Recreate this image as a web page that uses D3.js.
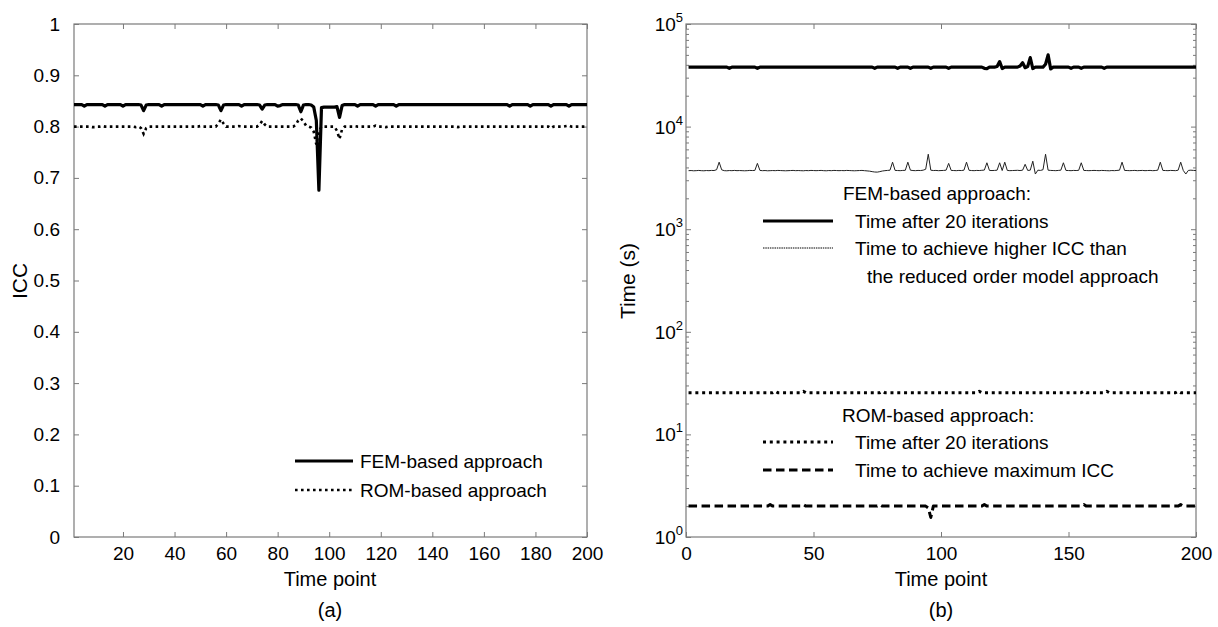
<!DOCTYPE html>
<html>
<head>
<meta charset="utf-8">
<script src="https://cdn.jsdelivr.net/npm/d3@7"></script>
<style>
body { margin: 0; background: #fff; }
text { font-family: "Liberation Sans", Arial, sans-serif; fill: #000; }
</style>
</head>
<body>
<script>
var w = 1218;
var h = 627;

// time points 1..200
var timePoints = d3.range(1, 201);

// (a) ICC values
var femIcc = [
  .843,.843,.843,.843,.840,.843,.843,.843,.843,.843,.843,.843,.840,.843,.843,.843,.843,.843,.843,.840,
  .843,.843,.843,.843,.843,.843,.842,.831,.842,.843,.843,.843,.843,.843,.840,.843,.843,.843,.843,.843,
  .843,.843,.843,.843,.843,.843,.843,.843,.843,.843,.840,.843,.843,.843,.843,.843,.842,.831,.842,.843,
  .843,.843,.843,.843,.843,.840,.843,.843,.843,.843,.843,.843,.842,.834,.842,.843,.843,.843,.843,.840,
  .841,.843,.843,.843,.843,.843,.843,.842,.829,.842,.843,.843,.842,.838,.812,.676,.837,.838,.838,.838,
  .838,.838,.839,.818,.841,.843,.843,.843,.843,.843,.840,.843,.843,.843,.843,.843,.843,.840,.843,.843,
  .843,.843,.843,.843,.843,.840,.843,.843,.843,.843,.843,.843,.843,.843,.843,.843,.843,.843,.843,.843,
  .843,.843,.843,.843,.843,.843,.843,.843,.843,.843,.843,.843,.843,.843,.843,.843,.843,.843,.843,.843,
  .843,.843,.843,.843,.843,.843,.843,.843,.843,.840,.843,.843,.843,.843,.843,.843,.843,.840,.843,.843,
  .843,.843,.843,.843,.843,.840,.843,.843,.843,.843,.843,.843,.840,.843,.843,.843,.843,.843,.843,.843];

var romIcc = [
  .800,.800,.800,.800,.800,.800,.800,.799,.799,.800,.800,.801,.800,.800,.800,.800,.800,.800,.800,.800,
  .800,.800,.800,.800,.799,.800,.797,.786,.797,.800,.800,.800,.800,.800,.800,.800,.800,.800,.800,.800,
  .800,.800,.800,.800,.800,.800,.800,.800,.800,.801,.800,.800,.800,.800,.800,.800,.806,.814,.806,.800,
  .800,.800,.800,.800,.801,.800,.800,.800,.800,.800,.800,.800,.804,.811,.804,.800,.800,.800,.800,.800,
  .800,.800,.800,.800,.800,.800,.803,.812,.816,.810,.802,.800,.798,.790,.765,.790,.800,.800,.800,.800,
  .800,.800,.792,.776,.795,.800,.800,.800,.800,.801,.800,.800,.800,.800,.800,.800,.800,.802,.800,.800,
  .800,.799,.800,.800,.800,.800,.800,.800,.800,.800,.800,.800,.800,.800,.800,.800,.800,.800,.800,.800,
  .800,.800,.800,.800,.800,.800,.800,.800,.800,.799,.800,.800,.800,.800,.800,.800,.800,.800,.800,.800,
  .800,.800,.800,.800,.800,.800,.800,.800,.800,.800,.800,.800,.800,.800,.800,.800,.800,.800,.800,.800,
  .800,.800,.800,.800,.800,.797,.800,.800,.800,.800,.800,.801,.802,.800,.800,.800,.800,.800,.800,.800];

// (b) time values in seconds
var femTime20 = [
  38000,38000,38000,38000,38000,38000,38000,38000,38000,38000,38000,38000,38000,38000,38000,38000,37000,38000,38000,38000,
  38000,38000,38000,38000,38000,38000,38000,37000,38000,38000,38000,38000,38000,38000,38000,38000,38000,38000,38000,38000,
  38000,38000,38000,38000,38000,38000,38000,38000,38000,38000,38000,38000,38000,38000,38000,38000,38000,38000,38000,38000,
  38000,38000,38000,38000,38000,38000,38000,38000,38000,38000,38000,38000,38000,37000,38000,38000,38000,38000,38000,38000,
  38000,38000,37000,38000,38000,38000,38000,37000,38000,38000,38000,38000,38000,38000,38000,37000,38000,38000,38000,38000,
  38000,38000,37000,38000,38000,38000,38000,38000,38000,38000,38000,38000,38000,38000,38000,38000,37000,36700,38000,38000,
  38000,38500,43000,36800,38000,38000,38000,38000,38000,38000,39000,42000,37500,38500,47000,36800,38000,38000,38000,38000,
  40500,50000,36500,38000,38000,38000,38000,38000,38000,38000,37000,38000,38000,38000,37000,38000,38000,38000,38000,38000,
  38000,38000,38000,37000,38000,38000,38000,38000,38000,38000,38000,38000,38000,38000,38000,38000,38000,38000,38000,38000,
  38000,38000,38000,38000,38000,38000,38000,38000,38000,38000,38000,38000,38000,38000,38000,38000,38000,38000,38000,38000];

var femTimeHigher = [
  3720,3730,3710,3720,3740,3720,3710,3730,3720,3740,3730,3800,4500,3790,3720,3710,3730,3720,3740,3720,
  3730,3720,3710,3720,3740,3730,3740,4380,3740,3720,3730,3710,3720,3730,3720,3740,3730,3720,3710,3720,
  3730,3740,3720,3730,3720,3710,3730,3720,3740,3730,3720,3730,3740,3720,3710,3730,3720,3740,3730,3720,
  3730,3720,3740,3730,3720,3710,3720,3730,3740,3720,3700,3680,3640,3610,3600,3640,3690,3720,3740,3760,
  4500,3740,3730,3720,3740,3750,4500,3760,3730,3720,3740,3730,3760,3840,5380,3760,3730,3740,3720,3730,
  3740,3760,4380,3740,3730,3720,3740,3730,3760,4500,3750,3730,3720,3740,3730,3750,3770,4440,3740,3730,
  3740,3760,4440,3730,4500,3740,3720,3730,3740,3750,3730,3760,4290,3740,3760,4600,3450,3760,3740,3800,
  5380,3760,3740,3730,3720,3740,3760,4440,3740,3730,3720,3740,3730,3750,4440,3740,3730,3720,3730,3740,
  3730,3720,3740,3730,3720,3710,3730,3720,3740,3760,4500,3740,3730,3720,3730,3740,3720,3730,3740,3720,
  3730,3740,3720,3730,3760,4500,3740,3730,3720,3740,3730,3720,3760,4500,3740,3450,3740,3760,3740,3730];

var romTime20 = [
  25.5,25.5,25.5,25.5,25.5,25.5,25.5,25.5,25.5,25.5,25.5,25.5,25.5,25.5,25.5,25.5,25.5,25.5,25.5,25.5,
  25.5,25.5,25.5,25.5,25.5,25.5,25.5,25.5,25.5,25.5,25.5,25.5,25.5,25.5,26.3,25.5,25.5,25.5,25.5,25.5,
  25.5,25.5,25.5,25.5,25.5,26.3,25.5,25.5,25.5,25.5,25.5,25.5,25.5,25.5,25.5,25.5,25.5,25.5,25.5,25.5,
  25.5,25.5,25.5,25.5,25.5,25.5,25.5,25.5,25.5,25.5,25.5,25.5,25.5,25.5,25.5,25.5,26.3,25.5,25.5,25.5,
  25.5,25.5,25.5,25.5,25.5,25.5,25.5,25.5,25.5,25.5,25.5,25.5,25.5,25.5,25.5,25.5,25.5,25.5,25.5,25.5,
  25.5,25.5,25.5,25.5,25.5,25.5,25.5,25.5,25.5,25.5,25.5,25.5,25.5,25.5,26.3,25.5,25.5,25.5,25.5,25.5,
  25.5,25.5,25.5,25.5,25.5,25.5,25.5,25.5,25.5,25.5,25.5,25.5,25.5,25.5,25.5,25.5,25.5,25.5,25.5,25.5,
  25.5,25.5,25.5,25.5,25.5,25.5,25.5,25.5,25.5,25.5,25.5,25.5,25.5,25.5,25.5,26.3,25.5,25.5,25.5,25.5,
  25.5,25.5,25.5,25.5,26.3,25.5,25.5,25.5,25.5,25.5,25.5,25.5,25.5,25.5,25.5,25.5,25.5,25.5,25.5,25.5,
  25.5,25.5,25.5,25.5,25.5,25.5,25.5,25.5,25.5,25.5,25.5,25.5,26.3,25.5,25.5,25.5,25.5,25.5,25.5,25.5];

var romTimeMax = [
  2.0,2.0,2.0,2.0,2.0,2.0,2.0,2.0,2.0,2.0,2.0,2.0,2.0,2.0,2.0,2.0,2.0,2.0,2.0,2.0,
  2.0,2.0,2.0,2.0,2.0,2.0,2.0,2.0,2.0,2.0,2.0,2.0,2.07,2.0,2.0,2.0,2.0,2.0,2.0,2.0,
  2.0,2.0,2.0,2.0,2.0,2.07,2.0,2.0,2.0,2.0,2.0,2.0,2.0,2.0,2.0,2.0,2.0,2.0,2.0,2.0,
  2.0,2.0,2.0,2.0,2.0,2.0,2.0,2.0,2.0,2.0,2.0,2.0,2.0,2.0,2.0,2.07,2.0,2.0,2.0,2.0,
  2.0,2.0,2.0,2.0,2.0,2.0,2.0,2.0,2.0,2.0,2.0,2.0,2.0,2.0,1.92,1.55,2.0,2.0,2.0,2.0,
  2.0,2.0,2.0,2.0,2.0,2.0,2.0,2.0,2.0,2.0,2.0,2.0,2.0,2.0,2.0,2.0,2.07,2.0,2.0,2.0,
  2.0,2.0,2.0,2.0,2.0,2.0,2.0,2.0,2.0,2.0,2.0,2.0,2.0,2.0,2.0,2.0,2.0,2.0,2.0,2.0,
  2.0,2.0,2.0,2.0,2.0,2.0,2.0,2.0,2.0,2.0,2.0,2.0,2.0,2.0,2.0,2.07,2.0,2.0,2.0,2.0,
  2.0,2.0,2.0,2.0,2.0,2.0,2.0,2.0,2.0,2.0,2.0,2.0,2.0,2.0,2.0,2.0,2.0,2.0,2.0,2.0,
  2.0,2.0,2.0,2.0,2.0,2.0,2.0,2.0,2.0,2.0,2.0,2.0,2.0,2.07,2.0,2.0,2.0,2.0,2.0,2.0];

// tick labels
var iccTicks = [0, 0.1, 0.2, 0.3, 0.4, 0.5, 0.6, 0.7, 0.8, 0.9, 1];
var xTicksA = [20, 40, 60, 80, 100, 120, 140, 160, 180, 200];
var xTicksB = [0, 50, 100, 150, 200];
var timeTicks = [1, 10, 100, 1000, 10000, 100000];

var axisColor = "#7a7a7a";

var svg = d3.select("body").append("svg")
    .attr("width", w)
    .attr("height", h);

// ---------- panel (a) ----------
var xA = d3.scaleLinear().domain([1, 200]).range([74, 587]);
var yA = d3.scaleLinear().domain([0, 1]).range([537, 24]);

var gA = svg.append("g");

// inward ticks, labels on bottom/left only
gA.append("g").attr("transform", "translate(0,537)")
    .call(d3.axisBottom(xA).tickValues(xTicksA).tickSizeInner(-5).tickSizeOuter(0).tickPadding(10));
gA.append("g").attr("transform", "translate(0,24)")
    .call(d3.axisTop(xA).tickValues(xTicksA).tickSizeInner(-5).tickSizeOuter(0).tickFormat(""));
gA.append("g").attr("transform", "translate(74,0)")
    .call(d3.axisLeft(yA).tickValues(iccTicks).tickSizeInner(-5).tickSizeOuter(0).tickPadding(14).tickFormat(d3.format("")));
gA.append("g").attr("transform", "translate(587,0)")
    .call(d3.axisRight(yA).tickValues(iccTicks).tickSizeInner(-5).tickSizeOuter(0).tickFormat(""));

gA.append("rect")
    .attr("x", 74).attr("y", 24)
    .attr("width", 587 - 74).attr("height", 537 - 24)
    .style("fill", "none").style("stroke", axisColor).style("stroke-width", 1.2);

var lineA = function(vals) {
  return d3.line()
    .x(function(d, i) { return xA(timePoints[i]); })
    .y(function(d) { return yA(d); })(vals);
};

gA.append("path").attr("d", lineA(romIcc))
    .style("fill", "none").style("stroke", "#000").style("stroke-width", 2.6)
    .style("stroke-dasharray", "2.6,3.4");
gA.append("path").attr("d", lineA(femIcc))
    .style("fill", "none").style("stroke", "#000").style("stroke-width", 3.2)
    .style("stroke-linejoin", "round");

// legend (a)
var legA = [
  {label: "FEM-based approach", y: 461, width: 3.2, dash: null},
  {label: "ROM-based approach", y: 490, width: 2.6, dash: "2.6,3.4"}];
var legGA = gA.selectAll(".legA").data(legA).enter().append("g");
legGA.append("line")
    .attr("x1", 295).attr("x2", 353)
    .attr("y1", function(d) { return d.y; }).attr("y2", function(d) { return d.y; })
    .style("stroke", "#000")
    .style("stroke-width", function(d) { return d.width; })
    .style("stroke-dasharray", function(d) { return d.dash; });
legGA.append("text")
    .attr("x", 360).attr("y", function(d) { return d.y; }).attr("dy", "0.36em")
    .style("font-size", "19px")
    .text(function(d) { return d.label; });

gA.append("text").attr("x", 330).attr("y", 586).attr("text-anchor", "middle")
    .style("font-size", "20px").text("Time point");
gA.append("text").attr("x", 330).attr("y", 617).attr("text-anchor", "middle")
    .style("font-size", "20px").text("(a)");
gA.append("text").attr("transform", "translate(27,281) rotate(-90)").attr("text-anchor", "middle")
    .style("font-size", "21px").text("ICC");

// ---------- panel (b) ----------
var xB = d3.scaleLinear().domain([0, 200]).range([686, 1196]);
var yB = d3.scaleLog().domain([1, 100000]).range([537, 24]);

var gB = svg.append("g");

// minor log ticks 2..9 per decade
var minorTicks = [];
timeTicks.slice(0, 5).forEach(function(t) {
  [2, 3, 4, 5, 6, 7, 8, 9].forEach(function(m) { minorTicks.push(t * m); });
});

gB.append("g").attr("transform", "translate(0,537)")
    .call(d3.axisBottom(xB).tickValues(xTicksB).tickSizeInner(-5).tickSizeOuter(0).tickPadding(10));
gB.append("g").attr("transform", "translate(0,24)")
    .call(d3.axisTop(xB).tickValues(xTicksB).tickSizeInner(-5).tickSizeOuter(0).tickFormat(""));
gB.append("g").attr("transform", "translate(686,0)")
    .call(d3.axisLeft(yB).tickValues(timeTicks).tickSizeInner(-5).tickSizeOuter(0).tickFormat(""));
gB.append("g").attr("transform", "translate(1196,0)")
    .call(d3.axisRight(yB).tickValues(timeTicks).tickSizeInner(-5).tickSizeOuter(0).tickFormat(""));
gB.append("g").attr("transform", "translate(686,0)")
    .call(d3.axisLeft(yB).tickValues(minorTicks).tickSizeInner(-3).tickSizeOuter(0).tickFormat(""));
gB.append("g").attr("transform", "translate(1196,0)")
    .call(d3.axisRight(yB).tickValues(minorTicks).tickSizeInner(-3).tickSizeOuter(0).tickFormat(""));

// 10^k labels
var powLabels = gB.selectAll(".pow").data(timeTicks).enter().append("text")
    .attr("x", 683).attr("y", function(d) { return yB(d) + 7; })
    .attr("text-anchor", "end")
    .style("font-size", "19px");
powLabels.append("tspan").text("10");
powLabels.append("tspan").attr("dy", -9).style("font-size", "13px")
    .text(function(d) { return Math.round(Math.log10(d)); });

gB.append("rect")
    .attr("x", 686).attr("y", 24)
    .attr("width", 1196 - 686).attr("height", 537 - 24)
    .style("fill", "none").style("stroke", axisColor).style("stroke-width", 1.2);

var lineB = function(vals) {
  return d3.line()
    .x(function(d, i) { return xB(timePoints[i]); })
    .y(function(d) { return yB(d); })(vals);
};

var seriesB = [
  {vals: femTime20, width: 3.2, dash: null, color: "#000"},
  {vals: femTimeHigher, width: 1, dash: null, color: "#222"},
  {vals: romTime20, width: 3, dash: "3,3.8", color: "#000"},
  {vals: romTimeMax, width: 3, dash: "8.5,4.5", color: "#000"}];

gB.selectAll(".serB").data(seriesB).enter().append("path")
    .attr("d", function(d) { return lineB(d.vals); })
    .style("fill", "none")
    .style("stroke", function(d) { return d.color; })
    .style("stroke-width", function(d) { return d.width; })
    .style("stroke-dasharray", function(d) { return d.dash; })
    .style("stroke-linejoin", "round");

// legend (b)
var legHeads = [
  {label: "FEM-based approach:", x: 843, y: 193},
  {label: "ROM-based approach:", x: 842, y: 415}];
gB.selectAll(".legHead").data(legHeads).enter().append("text")
    .attr("x", function(d) { return d.x; }).attr("y", function(d) { return d.y; }).attr("dy", "0.36em")
    .style("font-size", "19px")
    .text(function(d) { return d.label; });

var legB = [
  {label: "Time after 20 iterations", y: 221, width: 3.2, dash: null},
  {label: "Time to achieve higher ICC than", y: 248, width: 1, dash: "1.5,0.8"},
  {label: "Time after 20 iterations", y: 442, width: 3, dash: "3,3.8"},
  {label: "Time to achieve maximum ICC", y: 470, width: 3, dash: "8.5,4.5"}];
var legGB = gB.selectAll(".legB").data(legB).enter().append("g");
legGB.append("line")
    .attr("x1", 763).attr("x2", 833)
    .attr("y1", function(d) { return d.y; }).attr("y2", function(d) { return d.y; })
    .style("stroke", "#000")
    .style("stroke-width", function(d) { return d.width; })
    .style("stroke-dasharray", function(d) { return d.dash; });
legGB.append("text")
    .attr("x", 855).attr("y", function(d) { return d.y; }).attr("dy", "0.36em")
    .style("font-size", "19px")
    .text(function(d) { return d.label; });
gB.append("text").attr("x", 867).attr("y", 276).attr("dy", "0.36em")
    .style("font-size", "19px").text("the reduced order model approach");

gB.append("text").attr("x", 941).attr("y", 586).attr("text-anchor", "middle")
    .style("font-size", "20px").text("Time point");
gB.append("text").attr("x", 941).attr("y", 617).attr("text-anchor", "middle")
    .style("font-size", "20px").text("(b)");
gB.append("text").attr("transform", "translate(635,281) rotate(-90)").attr("text-anchor", "middle")
    .style("font-size", "21px").text("Time (s)");

// axis styling like the figure: box drawn separately, gray ticks, black labels
svg.selectAll(".domain").remove();
svg.selectAll(".tick line").style("stroke", axisColor);
svg.selectAll(".tick text").style("font-size", "19px").style("fill", "#000")
    .style("font-family", "\"Liberation Sans\", Arial, sans-serif");
</script>
</body>
</html>
